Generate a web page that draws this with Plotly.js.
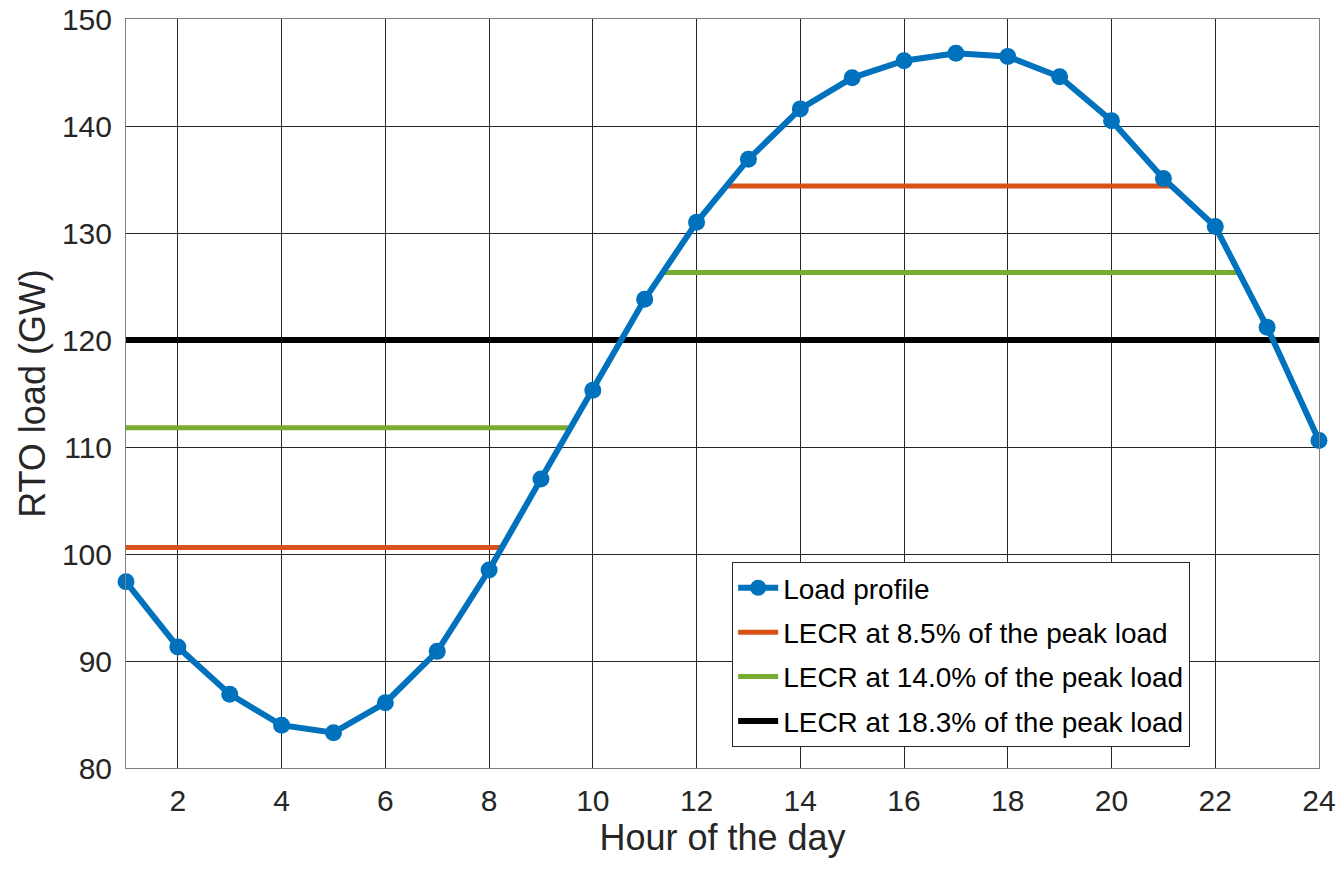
<!DOCTYPE html>
<html>
<head>
<meta charset="utf-8">
<script src="https://cdn.plot.ly/plotly-3.0.1.min.js"></script>
<style>html,body{margin:0;padding:0;background:#fff;}#chart{width:1337px;height:872px;}</style>
</head>
<body>
<div id="chart"></div>
<script>
const hours = [1,2,3,4,5,6,7,8,9,10,11,12,13,14,15,16,17,18,19,20,21,22,23,24];
const loadGW = [97.4,91.3,86.9,84.0,83.3,86.1,90.9,98.5,107.0,115.3,123.8,131.0,136.9,141.6,144.5,146.1,146.8,146.5,144.6,140.5,135.1,130.6,121.2,110.6];

// LECR threshold segments (x endpoints in hours, y level in GW); null separates segments
const lecr85X = [1, 8.23, null, 12.58, 21.14];
const lecr85Y = [100.6, 100.6, null, 134.4, 134.4];
const lecr140X = [1, 9.54, null, 11.33, 22.45];
const lecr140Y = [111.8, 111.8, null, 126.3, 126.3];
const lecr183X = [1, 24];
const lecr183Y = [120.0, 120.0];

const names = ["Load profile","LECR at 8.5% of the peak load","LECR at 14.0% of the peak load","LECR at 18.3% of the peak load"];
const xTicks = [2,4,6,8,10,12,14,16,18,20,22,24];
const yTicks = [80,90,100,110,120,130,140,150];

const traces = [
  {x: lecr85X, y: lecr85Y, mode:'lines', name:names[1], legendrank:2, legendgroup:'b', line:{color:'#D95319', width:5}, connectgaps:false},
  {x: lecr140X, y: lecr140Y, mode:'lines', name:names[2], legendrank:3, legendgroup:'c', line:{color:'#77AC30', width:5}, connectgaps:false},
  {x: lecr183X, y: lecr183Y, mode:'lines', name:names[3], legendrank:4, legendgroup:'d', line:{color:'#000000', width:6}},
  {x: hours, y: loadGW, mode:'lines+markers', name:names[0], legendrank:1, legendgroup:'a', line:{color:'#0072BD', width:6}, marker:{color:'#0072BD', size:17}, cliponaxis:false}
];

const font = "Liberation Sans, Arial, sans-serif";
const layout = {
  width:1337, height:872,
  margin:{l:126, r:18, t:19, b:104},
  paper_bgcolor:'#fff', plot_bgcolor:'#fff',
  showlegend:true,
  legend:{x:0.892, xanchor:'right', y:0.028, yanchor:'bottom', bgcolor:'#fff', bordercolor:'#262626', borderwidth:1,
          font:{family:font, size:28, color:'#000'}, traceorder:'grouped', tracegroupgap:5, itemwidth:40},
  xaxis:{range:[1,24], tickvals:xTicks, ticktext:xTicks.map(String), showgrid:true, gridcolor:'#262626', gridwidth:1,
         zeroline:false, showline:true, linecolor:'#808080', linewidth:1, mirror:true, ticks:'', ticklabelstandoff:6,
         tickfont:{family:font, size:30, color:'#262626'},
         title:{text:'Hour of the day', font:{family:font, size:36, color:'#262626'}, standoff:6}},
  yaxis:{range:[80,150], tickvals:yTicks, showgrid:true, gridcolor:'#262626', gridwidth:1,
         zeroline:false, showline:true, linecolor:'#808080', linewidth:1, mirror:true, ticks:'', ticklabelstandoff:7,
         tickfont:{family:font, size:30, color:'#262626'},
         title:{text:'RTO load (GW)', font:{family:font, size:36, color:'#262626'}, standoff:5}}
};
Plotly.newPlot('chart', traces, layout, {displayModeBar:false, staticPlot:true});
</script>
</body>
</html>
